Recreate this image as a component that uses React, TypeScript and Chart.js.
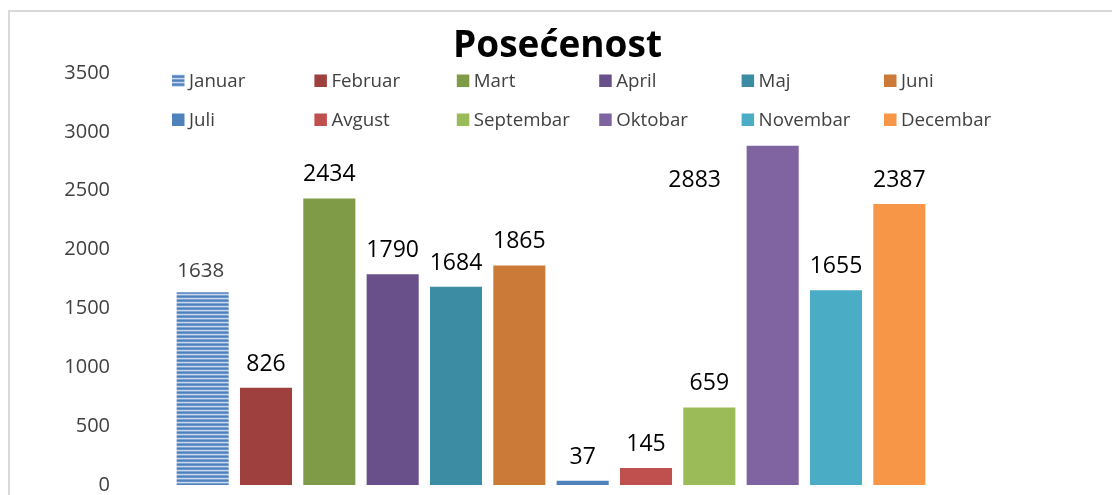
import React, { useEffect, useRef } from "react";
import { Chart, registerables } from "chart.js";

Chart.register(...registerables);

const months = [
  "Januar", "Februar", "Mart", "April", "Maj", "Juni",
  "Juli", "Avgust", "Septembar", "Oktobar", "Novembar", "Decembar",
];
const visits = [1638, 826, 2434, 1790, 1684, 1865, 37, 145, 659, 2883, 1655, 2387];
const barColors = [
  "#4F81BD", "#9E413E", "#7F9B48", "#69508A", "#3C8CA3", "#CC7A37",
  "#4F81BD", "#C0504D", "#9BBB59", "#8064A2", "#4BACC6", "#F79646",
];
const yMax = 3500;
const yStep = 500;
const title = "Posećenost";

const FONT = '"Open Sans", "Noto Sans", sans-serif';

function makeStripePattern(): CanvasPattern | string {
  const c = document.createElement("canvas");
  c.width = 4;
  c.height = 4;
  const g = c.getContext("2d");
  if (!g) return "#4F81BD";
  const rows = ["#4F81BD", "#6A95CA", "#C9D8EC", "#7FA3D1"];
  rows.forEach((col, i) => {
    g.fillStyle = col;
    g.fillRect(0, i, 4, 1);
  });
  return g.createPattern(c, "repeat") || "#4F81BD";
}

export default function App() {
  const ref = useRef<HTMLCanvasElement | null>(null);

  useEffect(() => {
    const canvas = ref.current;
    if (!canvas) return;
    const stripe = makeStripePattern();
    const fills = barColors.map((c, i) => (i === 0 ? stripe : c));

    const decorPlugin = {
      id: "decor",
      beforeDraw(chart: any) {
        const ctx = chart.ctx;
        ctx.save();
        ctx.fillStyle = "#ffffff";
        ctx.fillRect(0, 0, chart.width, chart.height);
        ctx.strokeStyle = "#D9D9D9";
        ctx.lineWidth = 2;
        ctx.strokeRect(9, 11, 1400, 800);
        ctx.restore();
      },
      afterDraw(chart: any) {
        const ctx = chart.ctx;
        ctx.save();
        // title
        ctx.font = `bold 37px ${FONT}`;
        ctx.fillStyle = "#000000";
        ctx.textAlign = "center";
        ctx.textBaseline = "alphabetic";
        ctx.fillText(title, 557.5, 57);
        // legend
        ctx.font = `18.7px ${FONT}`;
        ctx.textAlign = "left";
        months.forEach((m, i) => {
          const col = i % 6;
          const row = Math.floor(i / 6);
          const bx = 172 + col * 142.4;
          const base = row === 0 ? 87 : 126;
          ctx.fillStyle = fills[i];
          ctx.fillRect(bx, base - 12.5, 12.5, 12.5);
          ctx.fillStyle = "#404040";
          ctx.fillText(m, bx + 17, base);
        });
        ctx.restore();
      },
      afterDatasetsDraw(chart: any) {
        const ctx = chart.ctx;
        ctx.save();
        ctx.textAlign = "center";
        ctx.textBaseline = "alphabetic";
        chart.data.datasets.forEach((ds: any, i: number) => {
          const meta = chart.getDatasetMeta(i);
          const el = meta.data[i];
          if (!el) return;
          const v = visits[i];
          const x = el.x;
          const y = el.y;
          if (i === 0) {
            ctx.font = `20.5px ${FONT}`;
            ctx.fillStyle = "#404040";
            ctx.fillText(String(v), x - 2, y - 15);
          } else if (i === 9) {
            ctx.font = `23px ${FONT}`;
            ctx.fillStyle = "#000000";
            ctx.fillText(String(v), x - 78, y + 41.5);
          } else {
            ctx.font = `23px ${FONT}`;
            ctx.fillStyle = "#000000";
            ctx.fillText(String(v), x, y - 17);
          }
        });
        ctx.restore();
      },
    };

    const chart = new Chart(canvas, {
      type: "bar",
      data: {
        labels: months,
        datasets: months.map((m, i) => ({
          label: m,
          data: months.map((_, j) => (j === i ? visits[i] : null)),
          backgroundColor: fills[i],
          borderWidth: 0,
          barPercentage: 0.822,
          categoryPercentage: 1,
        })),
      },
      options: {
        responsive: false,
        animation: false,
        layout: { padding: { left: 0, right: 181, top: 73, bottom: 10 } },
        plugins: {
          legend: { display: false },
          title: { display: false },
          tooltip: { enabled: false },
        },
        scales: {
          x: {
            display: false,
            stacked: true,
            offset: true,
          },
          y: {
            stacked: true,
            min: 0,
            max: yMax,
            grid: { display: false, drawTicks: false },
            border: { display: false },
            ticks: {
              stepSize: yStep,
              padding: 61,
              color: "#404040",
              font: { family: FONT, size: 20 },
              callback: (value: any) => String(value),
            },
            afterFit(scale: any) {
              scale.width = 171;
              scale.paddingTop = 0;
              scale.paddingBottom = 0;
            },
          },
        },
      },
      plugins: [decorPlugin],
    } as any);

    return () => chart.destroy();
  }, []);

  return (
    <div style={{ position: "fixed", left: 0, top: 0, width: 1112, height: 495, overflow: "hidden", background: "#fff" }}>
      <canvas ref={ref} width={1112} height={495} style={{ display: "block" }} />
    </div>
  );
}
